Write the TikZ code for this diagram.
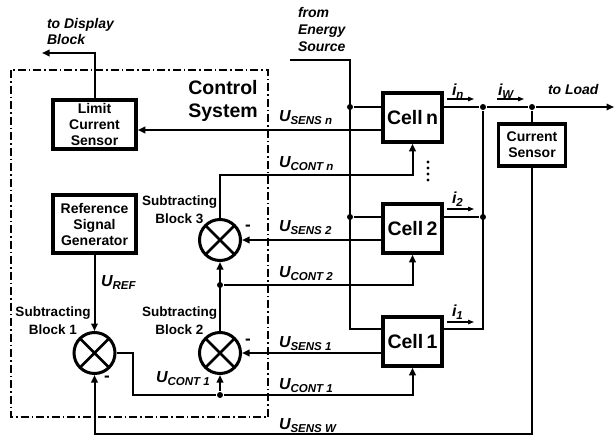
\documentclass[tikz,border=0pt]{standalone}
\usepackage{fontspec}
\setmainfont{Liberation Sans}
\usetikzlibrary{arrows.meta,calc}
\newcommand\myfs[1]{\fontsize{#1}{#1}\selectfont}
\newcommand\ulab[2]{\bfseries\itshape{\myfs{16}#1}\raisebox{-3pt}{\myfs{11.5}#2}}
\begin{document}
\begin{tikzpicture}[x=1pt,y=-1pt, line width=2pt,
  tip/.style={-{Triangle[length=7.5pt,width=6.5pt]}},
  smalltip/.style={line width=1.2pt,-{Triangle[length=6pt,width=4.5pt]}},
  box/.style={draw, line width=3.5pt, fill=white, inner sep=0pt, align=center, font=\bfseries\fontsize{14}{16}\selectfont},
  cell/.style={box, font=\bfseries\myfs{19.5}, minimum width=59pt, minimum height=49pt},
  sum/.style={draw, circle, line width=3pt, minimum size=41pt, inner sep=0pt,
    path picture={\draw[line width=2.8pt] (path picture bounding box.south west) -- (path picture bounding box.north east)
      (path picture bounding box.north west) -- (path picture bounding box.south east);}},
  dot/.style={circle, fill, inner sep=0pt, minimum size=6pt},
  lbl/.style={anchor=base west, inner sep=0pt},
  txt/.style={inner sep=0pt, font=\bfseries\itshape\myfs{14}},
  sub/.style={inner sep=0pt, font=\bfseries\myfs{13.5}},
  frame/.style={line width=1.2pt, dash pattern=on 8pt off 3pt on 1.5pt off 3pt}
]
\useasboundingbox (0,0) rectangle (615,436);

% control system frame
\draw[frame] (11,70) rectangle (268,417);
\node[inner sep=0pt, font=\bfseries\myfs{19.5}, anchor=base] (cst1) at (223,94) {Control};
\node[inner sep=0pt, font=\bfseries\myfs{19.5}, anchor=base] (cst2) at (223,117) {System};

% blocks
\node[box, minimum width=83pt, minimum height=49pt] (lcs) at (94.5,124.5) {Limit\\Current\\Sensor};
\node[box, minimum width=83pt, minimum height=58pt] (rsg) at (94.5,224) {Reference\\Signal\\Generator};
\node[cell] (cn) at (412.5,117.5) {Cell\,n};
\node[cell] (c2) at (412.5,228.5) {Cell\,2};
\node[cell] (c1) at (412.5,341.5) {Cell\,1};
\node[box, minimum width=67pt, minimum height=42pt] (cs) at (532,145) {Current\\Sensor};

\node[sum] (s1) at (94.5,353) {};
\node[sum] (s2) at (220,353) {};
\node[sum] (s3) at (220,240) {};

% to display block
\coordinate (disp) at (42,53);
\draw[tip] (lcs.north) |- (disp);
\node[txt, anchor=base west] (td1) at (46,29) {to Display};
\node[txt, anchor=base west] (td2) at (46,45) {Block};

% energy source
\node[txt, anchor=base west] (fe1) at (297,18) {from};
\node[txt, anchor=base west] (fe2) at (297,35) {Energy};
\node[txt, anchor=base west] (fe3) at (297,52) {Source};
\coordinate (es) at (290,60);
\coordinate (ej) at (350,329);
\node[dot] (dn) at (350,107) {};
\node[dot] (d2) at (350,217) {};
\draw (es) -| (ej) -- (ej -| c1.west);
\draw (dn) -- (dn -| cn.west);
\draw (d2) -- (d2 -| c2.west);

% outputs
\node[dot] (on) at (483,107) {};
\node[dot] (ow) at (532,107) {};
\node[dot] (o2) at (483,217) {};
\coordinate (o1) at (483,329);
\coordinate (load) at (614,107);
\draw (cn.east |- on) -- (on) -- (ow);
\draw[tip] (ow) -- (load);
\draw (c2.east |- o2) -- (o2);
\draw (c1.east |- o1) -- (o1) -- (on);
\draw (ow) -- (cs.north);
\node[txt, anchor=base west] (tl) at (547,94) {to Load};

% current arrows
\draw[smalltip] (447,99) -- (474,99);
\draw[smalltip] (497,99) -- (524,99);
\draw[smalltip] (447,209) -- (474,209);
\draw[smalltip] (447,322) -- (474,322);
\node[lbl] (in) at (451,95) {\ulab{i}{n}};
\node[lbl] (iw) at (497,95) {\ulab{i}{W}};
\node[lbl] (i2) at (451,203) {\ulab{i}{2}};
\node[lbl] (i1) at (451,316) {\ulab{i}{1}};

% sensing lines
\coordinate (yn) at (0,130);
\draw[tip] (cn.west |- yn) -- (lcs.east |- yn);
\draw[tip] (c2.west |- s3) -- (s3.east);
\draw[tip] (c1.west |- s2) -- (s2.east);
\coordinate (bw) at (532,434);
\draw[tip] (cs.south) -- (bw) -| (s1.south);

% control lines
\coordinate (kn) at (220,175);
\draw[tip] (s3.north) -- (kn) -| (cn.south);
\node[dot] (k2) at (220,285) {};
\draw[tip] (s2.north) -- (s3.south);
\draw[tip] (k2) -| (c2.south);
\coordinate (k1a) at (133,353);
\node[dot] (k1) at (220,395) {};
\draw (s1.east) -- (k1a) |- (k1);
\draw[tip] (k1) -- (s2.south);
\draw[tip] (k1) -| (c1.south);
\draw[tip] (rsg.south) -- (s1.north);

% vertical ellipsis
\foreach \yy in {162,168,174,180} \fill (428,\yy) circle (1.7pt);

% labels
\node[lbl] (lsn) at (278,121) {\ulab{U}{SENS n}};
\node[lbl] (lcn) at (278,167) {\ulab{U}{CONT n}};
\node[lbl] (ls2) at (278,231) {\ulab{U}{SENS 2}};
\node[lbl] (lc2) at (278,277) {\ulab{U}{CONT 2}};
\node[lbl] (ls1) at (278,347) {\ulab{U}{SENS 1}};
\node[lbl] (lc1) at (278,389) {\ulab{U}{CONT 1}};
\node[lbl] (lsw) at (278,429) {\ulab{U}{SENS W}};
\node[lbl] (lci) at (155,382) {\ulab{U}{CONT 1}};
\node[lbl] (lref) at (100,286) {\ulab{U}{REF}};

% subtracting block labels
\node[sub] (sb1a) at (53,313) {Subtracting};
\node[sub] (sb1b) at (53,330) {Block 1};
\node[sub] (sb2a) at (179.5,313) {Subtracting};
\node[sub] (sb2b) at (179.5,330) {Block 2};
\node[sub] (sb3a) at (179.5,202) {Subtracting};
\node[sub] (sb3b) at (179.5,219) {Block 3};

% minus signs
\node[inner sep=0pt, font=\bfseries\myfs{17}] (m3) at (248,228) {-};
\node[inner sep=0pt, font=\bfseries\myfs{17}] (m2) at (248,342) {-};
\node[inner sep=0pt, font=\bfseries\myfs{17}] (m1) at (107,379) {-};
\end{tikzpicture}
\end{document}
